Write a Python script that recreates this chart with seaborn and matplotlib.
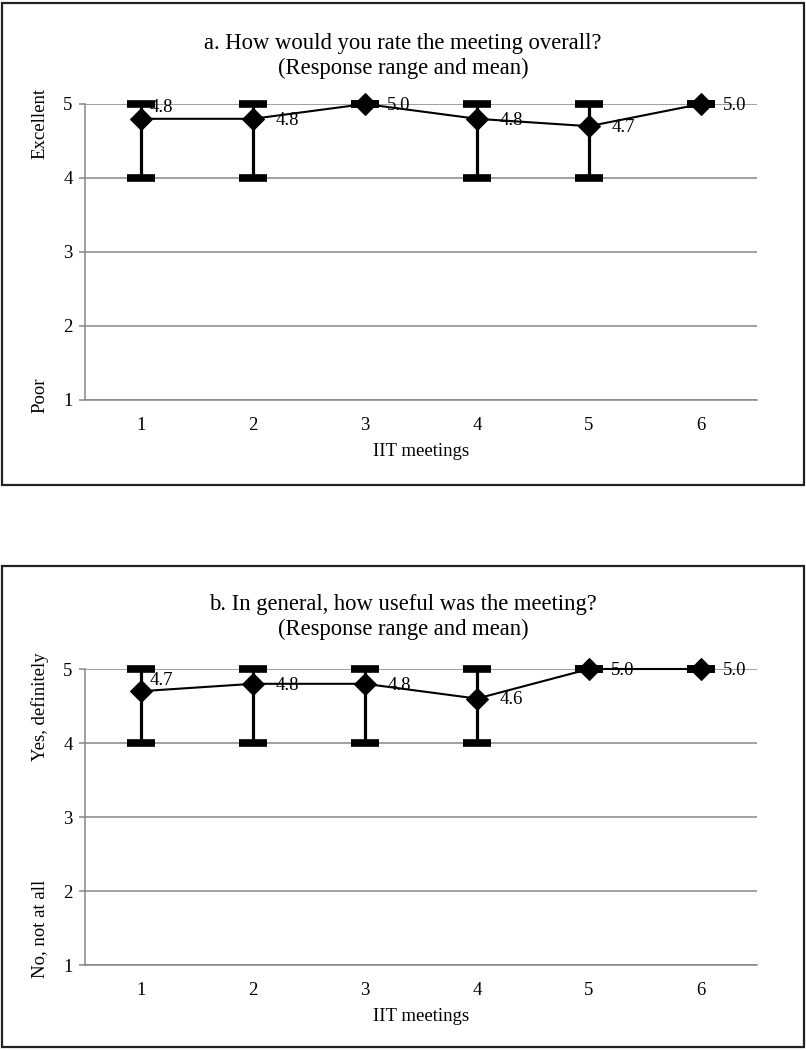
import matplotlib
matplotlib.use("Agg")
import matplotlib.pyplot as plt
import matplotlib.transforms as mtransforms
from matplotlib.patches import Rectangle
import seaborn as sns
import pandas as pd

# data
meetings = [1, 2, 3, 4, 5, 6]

a_mean = [4.8, 4.8, 5.0, 4.8, 4.7, 5.0]
a_min = [4, 4, 5, 4, 4, 5]
a_max = [5, 5, 5, 5, 5, 5]

b_mean = [4.7, 4.8, 4.8, 4.6, 5.0, 5.0]
b_min = [4, 4, 4, 4, 5, 5]
b_max = [5, 5, 5, 5, 5, 5]

a_title = "a. How would you rate the meeting overall?\n(Response range and mean)"
b_title = "b. In general, how useful was the meeting?\n(Response range and mean)"
a_top_label, a_bottom_label = "Excellent", "Poor"
b_top_label, b_bottom_label = "Yes, definitely", "No, not at all"
x_title = "IIT meetings"

sns.set_theme(style="white")
plt.rcParams["font.family"] = ["Liberation Serif", "DejaVu Serif"]
plt.rcParams["text.color"] = "black"
plt.rcParams["xtick.color"] = "black"
plt.rcParams["ytick.color"] = "black"
plt.rcParams["axes.labelcolor"] = "black"
GRID = "#868686"

W, H = 806, 1050
fig = plt.figure(figsize=(W / 100, H / 100), dpi=100)


def draw_panel(ax, mean, lo, hi, title, top_lab, bot_lab, box, title_y):
    df = pd.DataFrame({"meeting": meetings, "mean": mean, "lo": lo, "hi": hi})
    yerr = [df["mean"] - df["lo"], df["hi"] - df["mean"]]
    ax.errorbar(df["meeting"], df["mean"], yerr=yerr, fmt="none", ecolor="black",
                elinewidth=2.3, capsize=10, capthick=5.5, zorder=3, clip_on=False)
    sns.lineplot(data=df, x="meeting", y="mean", ax=ax, color="black", lw=1.5,
                 marker="D", markersize=11, markeredgecolor="black",
                 markerfacecolor="black", zorder=4, clip_on=False)

    # data labels, first one sits above-right like in the original
    for i, (xv, yv) in enumerate(zip(df["meeting"], df["mean"])):
        off = (6.5, 8) if i == 0 else (16, -1)
        ax.annotate(f"{yv:.1f}", (xv, yv), xytext=off, textcoords="offset points",
                    ha="left", va="center", fontsize=13.5, zorder=5)

    ax.set_xlim(0.5, 6.5)
    ax.set_ylim(1, 5)
    ax.set_yticks([1, 2, 3, 4, 5])
    ax.set_xticks(meetings)
    ax.yaxis.grid(True, color=GRID, lw=1.1)
    ax.xaxis.grid(False)
    for s in ["top", "right"]:
        ax.spines[s].set_visible(False)
    for s in ["left", "bottom"]:
        ax.spines[s].set_color(GRID)
        ax.spines[s].set_linewidth(1.1)
    ax.tick_params(axis="y", left=True, length=4, color=GRID, width=1.1,
                   pad=5, labelsize=13.5)
    ax.tick_params(axis="x", bottom=False, pad=6.5, labelsize=13.5)
    ax.set_xlabel(x_title, fontsize=13.5, labelpad=6)
    ax.set_ylabel("")

    trans = mtransforms.blended_transform_factory(fig.transFigure, ax.transData)
    ax.text(40 / W, 5.22, top_lab, rotation=90, ha="center", va="top",
            fontsize=13.5, transform=trans)
    ax.text(40 / W, 0.82, bot_lab, rotation=90, ha="center", va="bottom",
            fontsize=13.5, transform=trans)

    fig.text(403 / W, title_y, title, ha="center", va="center", fontsize=16.3,
             linespacing=1.2)

    x0, y0, x1, y1 = box
    fig.patches.append(Rectangle((x0 / W, 1 - y1 / H), (x1 - x0) / W, (y1 - y0) / H,
                                 transform=fig.transFigure, fill=False,
                                 edgecolor="#222222", lw=1.6))


ax_a = fig.add_axes([85 / W, 1 - 400 / H, 672 / W, 296 / H])
ax_b = fig.add_axes([85 / W, 1 - 965 / H, 672 / W, 296 / H])

draw_panel(ax_a, a_mean, a_min, a_max, a_title, a_top_label, a_bottom_label,
           (2, 3, 804, 485), 1 - 56 / H)
draw_panel(ax_b, b_mean, b_min, b_max, b_title, b_top_label, b_bottom_label,
           (2, 566, 804, 1047), 1 - 617 / H)

fig.savefig("out.png", dpi=100, facecolor="white")
